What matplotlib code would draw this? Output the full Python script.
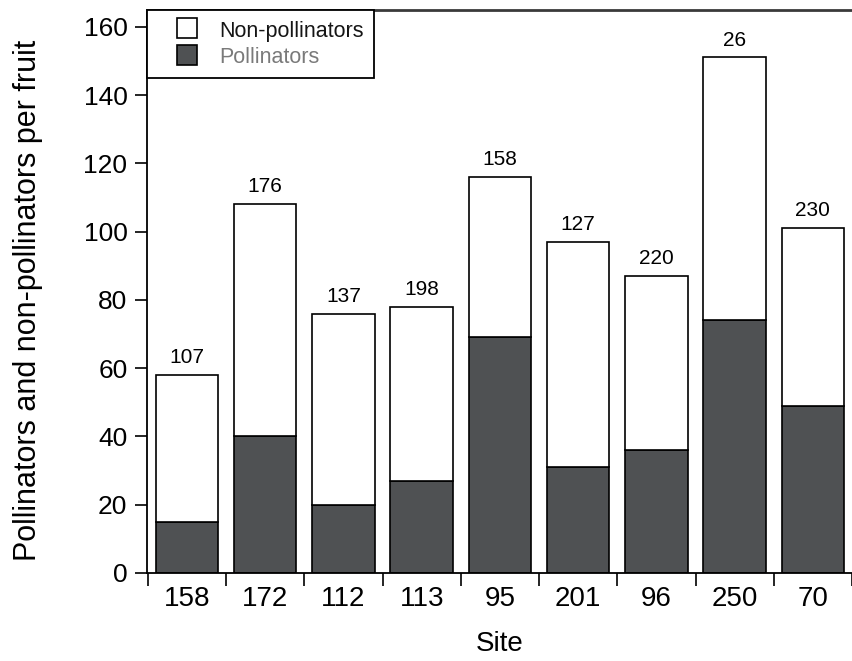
import matplotlib.pyplot as plt
import numpy as np
from matplotlib.lines import Line2D

sites = ["158", "172", "112", "113", "95", "201", "96", "250", "70"]
pollinators = [15, 40, 20, 27, 69, 31, 36, 74, 49]
totals = [58, 108, 76, 78, 116, 97, 87, 151, 101]
sample_sizes = [107, 176, 137, 198, 158, 127, 220, 26, 230]

non_pollinators = [t - p for t, p in zip(totals, pollinators)]

plt.rcParams["font.family"] = ["Liberation Sans", "DejaVu Sans"]

dark = "#4f5153"

fig = plt.figure(figsize=(8.52, 6.61), dpi=100)
ax = fig.add_axes([147 / 852, 88 / 661, 705 / 852, 563 / 661])

x = np.arange(len(sites))
width = 0.8
ax.bar(x, pollinators, width, color=dark, edgecolor="black", linewidth=1.2, zorder=2)
ax.bar(x, non_pollinators, width, bottom=pollinators, color="white",
       edgecolor="black", linewidth=1.2, zorder=2)

# number of fruits above each bar
for xi, top, n in zip(x, totals, sample_sizes):
    ax.text(xi, top + 2.3, str(n), ha="center", va="bottom", fontsize=15)

ax.set_xlim(-0.51, 8.38)
ax.set_ylim(0, 164.9)

ax.set_yticks(np.arange(0, 161, 20))
ax.tick_params(axis="y", direction="out", length=8.6, width=1.2, labelsize=19, pad=5.5)

# site names centred under bars, tick marks between bars
ax.set_xticks(x)
ax.set_xticklabels(sites, fontsize=20)
ax.tick_params(axis="x", which="major", length=0, pad=9)
ax.set_xticks(np.arange(-0.5, len(sites) - 0.4, 1.0), minor=True)
ax.tick_params(axis="x", which="minor", direction="out", length=9, width=1.2)

for side in ["left", "bottom"]:
    ax.spines[side].set_linewidth(1.3)
ax.spines["top"].set_linewidth(2)
ax.spines["top"].set_color("#3a3a3a")
ax.spines["right"].set_visible(False)

ax.set_ylabel("Pollinators and non-pollinators per fruit", fontsize=22)
ax.yaxis.set_label_coords(-0.148, 0.485)
ax.set_xlabel("Site", fontsize=20, labelpad=14)

handles = [
    Line2D([], [], ls="none", marker="s", markersize=15, markerfacecolor="white",
           markeredgecolor="black", markeredgewidth=1.2),
    Line2D([], [], ls="none", marker="s", markersize=15, markerfacecolor=dark,
           markeredgecolor="black", markeredgewidth=1.2),
]
leg = ax.legend(handles, ["Non-pollinators", "Pollinators"], loc="upper left",
                bbox_to_anchor=(0, 1), borderaxespad=0, fontsize=15.5, frameon=True,
                fancybox=False, numpoints=1, handlelength=2.8, handleheight=1.0,
                handletextpad=0.12, labelspacing=0.22, borderpad=0.45)
leg.get_frame().set_edgecolor("black")
leg.get_frame().set_linewidth(1.3)
leg.get_frame().set_alpha(1)
leg.get_texts()[0].set_color("#151515")
leg.get_texts()[1].set_color("#7a7a7a")

fig.savefig("out.png", dpi=100)
